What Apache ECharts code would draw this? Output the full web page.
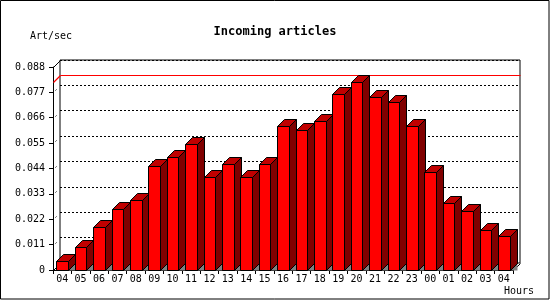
<!DOCTYPE html>
<html>
<head>
<meta charset="utf-8">
<script src="https://cdn.jsdelivr.net/npm/echarts@6/dist/echarts.min.js"></script>
<style>html,body{margin:0;padding:0;background:#fff}#c{width:550px;height:300px}</style>
</head>
<body>
<div id="c"></div>
<script>
const hours = ['04','05','06','07','08','09','10','11','12','13','14','15','16','17','18','19','20','21','22','23','00','01','02','03','04'];
const artPerSec = [0.0040,0.0098,0.0185,0.0263,0.0302,0.0450,0.0488,0.0546,0.0401,0.0458,0.0401,0.0458,0.0624,0.0609,0.0648,0.0761,0.0813,0.0752,0.0728,0.0624,0.0423,0.0289,0.0254,0.0172,0.0146];
const yTickLabels = ['0','0.011','0.022','0.033','0.044','0.055','0.066','0.077','0.088'];
const yStep = 0.011;
const yMax = 0.088;

const DX = 7, DY = 7;
const FONT = 'DejaVu Sans Mono';
const maxVal = Math.max.apply(null, artPerSec);

const chart = echarts.init(document.getElementById('c'), null, {renderer: 'canvas'});

function s(v) { return Math.round(v) + 0.5; }

function barItem(params, api) {
  const idx = api.value(0), v = api.value(1);
  const bw = api.size([1, 0])[0];
  const w = bw * 0.63;
  const p = api.coord([idx, v]);
  const b = api.coord([idx, 0]);
  const x0 = s(p[0] - w / 2), x1 = s(p[0] + w / 2), yt = s(p[1]), yb = s(b[1]);
  const st = {stroke: '#000', lineWidth: 1};
  return {
    type: 'group',
    children: [
      {type: 'polygon', shape: {points: [[x1, yb], [x1 + DX, yb - DY], [x1 + DX, yb]]}, style: {fill: '#808080'}},
      {type: 'polygon', shape: {points: [[x0, yt], [x1, yt], [x1, yb], [x0, yb]]}, style: Object.assign({fill: '#ff0000'}, st)},
      {type: 'polygon', shape: {points: [[x0, yt], [x0 + DX, yt - DY], [x1 + DX, yt - DY], [x1, yt]]}, style: Object.assign({fill: '#c00000'}, st)},
      {type: 'polygon', shape: {points: [[x1, yt], [x1 + DX, yt - DY], [x1 + DX, yb - DY], [x1, yb]]}, style: Object.assign({fill: '#800000'}, st)}
    ]
  };
}

function frameItem(params, api) {
  const bw = api.size([1, 0])[0];
  const c0 = api.coord([0, 0]);
  const left = s(c0[0] - bw / 2), bottom = s(c0[1]);
  const top = s(api.coord([0, yMax])[1]);
  const right = s(api.coord([hours.length - 1, 0])[0] + bw / 2);
  const ym = s(api.coord([0, maxVal])[1]);
  const red = {stroke: '#ff0000', lineWidth: 1.2};
  const children = [
    {type: 'line', shape: {x1: left, y1: top, x2: left + DX, y2: top - DY}, style: {stroke: '#000', lineWidth: 1}},
    {type: 'line', shape: {x1: left, y1: bottom, x2: left + DX, y2: bottom - DY}, style: {stroke: '#000', lineWidth: 1}},
    {type: 'line', shape: {x1: right, y1: bottom, x2: right + DX, y2: bottom - DY}, style: {stroke: '#000', lineWidth: 1}},
    {type: 'line', shape: {x1: left, y1: ym, x2: left + DX, y2: ym - DY}, style: red, z2: 10},
    {type: 'line', shape: {x1: left + DX, y1: ym - DY, x2: right + DX, y2: ym - DY}, style: red, z2: 10}
  ];
  for (let i = 1; i < yTickLabels.length - 1; i++) {
    const y = s(api.coord([0, i * yStep])[1]);
    children.push({type: 'line', shape: {x1: left + 2, y1: y - 2, x2: left + 3, y2: y - 3}, style: {stroke: '#000', lineWidth: 1}});
  }
  return {type: 'group', children: children};
}

const option = {
  backgroundColor: '#fff',
  animation: false,
  title: {
    text: 'Incoming articles', left: 'center', top: 21,
    textStyle: {fontFamily: FONT, fontWeight: 'bold', fontSize: 12, color: '#000'}
  },
  graphic: [
    {type: 'rect', shape: {x: 0.5, y: 0.5, width: 548.5, height: 298.5}, style: {fill: null, stroke: '#000', lineWidth: 1}, z: 100},
    {type: 'text', left: 30, top: 31, style: {text: 'Art/sec', font: '10px "DejaVu Sans Mono"', fill: '#000'}},
    {type: 'text', left: 504, top: 286, style: {text: 'Hours', font: '10px "DejaVu Sans Mono"', fill: '#000'}}
  ],
  grid: [
    {left: 53, right: 37, top: 67, bottom: 30, show: false},
    {left: 60, right: 30, top: 60, bottom: 37, show: true, borderColor: '#000', borderWidth: 1, backgroundColor: 'transparent'}
  ],
  xAxis: [
    {
      type: 'category', gridIndex: 0, data: hours, boundaryGap: true,
      axisLine: {lineStyle: {color: '#000', width: 1}},
      axisTick: {show: true, length: 4, lineStyle: {color: '#000'}},
      axisLabel: {fontFamily: FONT, fontSize: 10, color: '#000', margin: 4, interval: 0},
      splitLine: {show: false}
    },
    {
      type: 'category', gridIndex: 1, data: hours, boundaryGap: true,
      axisLine: {show: false}, axisTick: {show: false}, axisLabel: {show: false}, splitLine: {show: false}
    }
  ],
  yAxis: [
    {
      type: 'value', gridIndex: 0, min: 0, max: yMax, interval: yStep,
      axisLine: {show: true, lineStyle: {color: '#000', width: 1}},
      axisTick: {show: true, length: 4, lineStyle: {color: '#000'}},
      axisLabel: {fontFamily: FONT, fontSize: 10, color: '#000', margin: 8,
        formatter: function (v) { return yTickLabels[Math.round(v / yStep)]; }},
      splitLine: {show: false}
    },
    {
      type: 'value', gridIndex: 1, min: 0, max: yMax, interval: yStep,
      axisLine: {show: false}, axisTick: {show: false}, axisLabel: {show: false},
      splitLine: {show: true, lineStyle: {color: '#000', width: 1, type: [2, 2]}}
    }
  ],
  series: [
    {
      type: 'custom', name: 'frame', xAxisIndex: 0, yAxisIndex: 0, z: 2, clip: false,
      renderItem: frameItem, data: [[0, maxVal]], silent: true
    },
    {
      type: 'custom', name: 'Art/sec', xAxisIndex: 0, yAxisIndex: 0, z: 3, clip: false,
      renderItem: barItem,
      data: artPerSec.map(function (v, i) { return [i, v]; })
    }
  ]
};
chart.setOption(option);
</script>
</body>
</html>
